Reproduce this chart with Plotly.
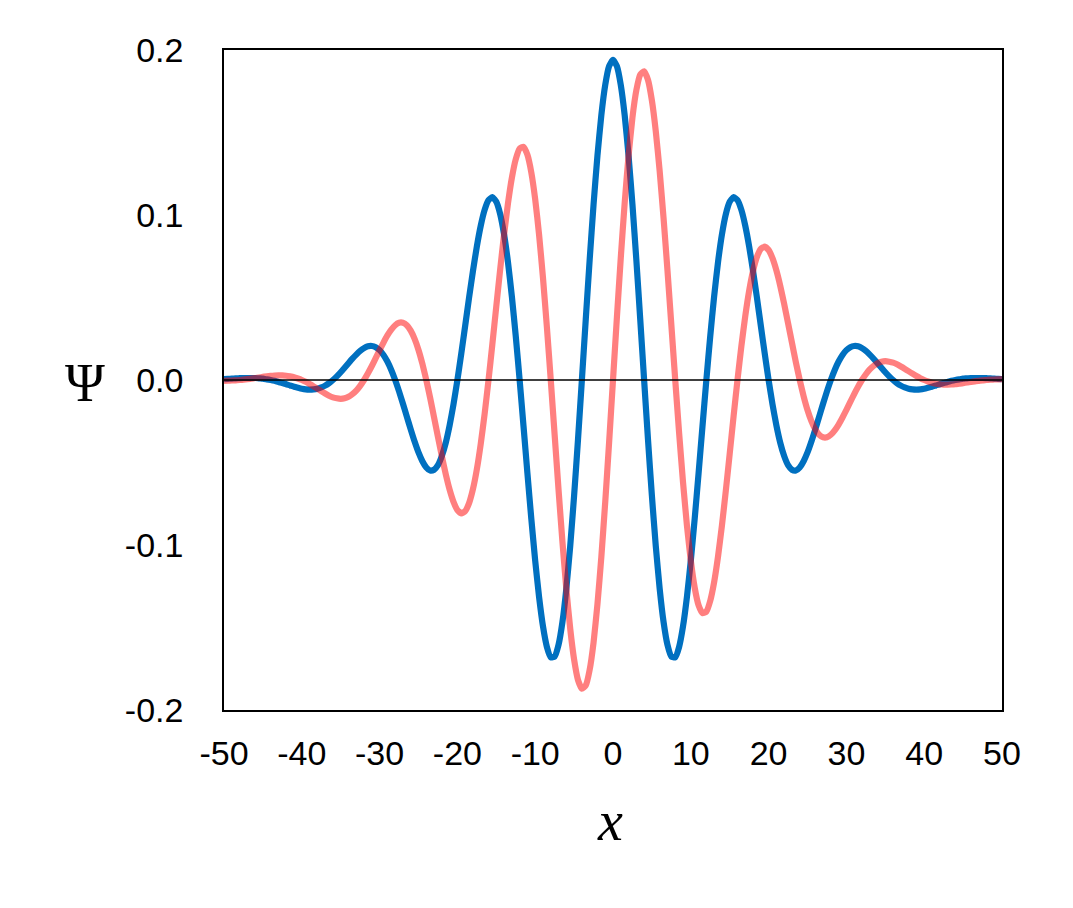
import plotly.graph_objects as go

# x grid: -50 .. 50 in steps of 0.5
x_vals = [i / 2 for i in range(-100, 101)]

# blue curve, x = -50 .. -0.5
blue_left = [
    0.0005, 0.0007, 0.0008, 0.0010, 0.0011, 0.0012, 0.0012, 0.0012, 0.0012, 0.0010,
    0.0008, 0.0004, 0.0, -0.0005, -0.0012, -0.0018, -0.0026, -0.0033, -0.0041, -0.0047,
    -0.0053, -0.0057, -0.0058, -0.0057, -0.0053, -0.0045, -0.0034, -0.0019, 0.0, 0.0022,
    0.0047, 0.0074, 0.0102, 0.0129, 0.0154, 0.0176, 0.0193, 0.0204, 0.0206, 0.0199,
    0.0181, 0.0152, 0.0112, 0.0061, 0.0, -0.0069, -0.0144, -0.0222, -0.0299, -0.0373,
    -0.0439, -0.0492, -0.0530, -0.0549, -0.0544, -0.0516, -0.0461, -0.0381, -0.0275, -0.0147,
    0.0, 0.0161, 0.0329, 0.0499, 0.0661, 0.0809, 0.0935, 0.1031, 0.1090, 0.1108,
    0.1080, 0.1005, 0.0882, 0.0715, 0.0507, 0.0266, 0.0, -0.0281, -0.0565, -0.0841,
    -0.1095, -0.1316, -0.1493, -0.1617, -0.1680, -0.1676, -0.1605, -0.1467, -0.1265, -0.1007,
    -0.0702, -0.0362, 0.0, 0.0368, 0.0728, 0.1063, 0.1359, 0.1605, 0.1788, 0.1902,
]
# blue curve, x = 0 .. 50
blue_right = [
    0.1940,
    0.1902, 0.1788, 0.1605, 0.1359, 0.1063, 0.0728, 0.0368, 0.0, -0.0362, -0.0702,
    -0.1007, -0.1265, -0.1467, -0.1605, -0.1676, -0.1680, -0.1617, -0.1493, -0.1316, -0.1095,
    -0.0841, -0.0565, -0.0281, 0.0, 0.0266, 0.0507, 0.0715, 0.0882, 0.1005, 0.1080,
    0.1108, 0.1090, 0.1031, 0.0935, 0.0809, 0.0661, 0.0499, 0.0329, 0.0161, 0.0,
    -0.0147, -0.0275, -0.0381, -0.0461, -0.0516, -0.0544, -0.0549, -0.0530, -0.0492, -0.0439,
    -0.0373, -0.0299, -0.0222, -0.0144, -0.0069, 0.0, 0.0061, 0.0112, 0.0152, 0.0181,
    0.0199, 0.0206, 0.0204, 0.0193, 0.0176, 0.0154, 0.0129, 0.0102, 0.0074, 0.0047,
    0.0022, 0.0, -0.0019, -0.0034, -0.0045, -0.0053, -0.0057, -0.0058, -0.0057, -0.0053,
    -0.0047, -0.0041, -0.0033, -0.0026, -0.0018, -0.0012, -0.0005, 0.0, 0.0004, 0.0008,
    0.0010, 0.0012, 0.0012, 0.0012, 0.0012, 0.0011, 0.0010, 0.0008, 0.0007, 0.0005,
]

# pink curve, x = -50 .. -0.5
pink_left = [
    -0.0005, -0.0004, -0.0003, -0.0002, 0.0, 0.0002, 0.0005, 0.0008, 0.0012, 0.0015,
    0.0019, 0.0022, 0.0025, 0.0027, 0.0028, 0.0028, 0.0026, 0.0022, 0.0017, 0.0009,
    0.0, -0.0011, -0.0024, -0.0038, -0.0053, -0.0068, -0.0082, -0.0095, -0.0105, -0.0111,
    -0.0114, -0.0111, -0.0102, -0.0086, -0.0064, -0.0035, 0.0, 0.0041, 0.0085, 0.0133,
    0.0181, 0.0227, 0.0270, 0.0305, 0.0332, 0.0347, 0.0347, 0.0332, 0.0299, 0.0249,
    0.0182, 0.0098, 0.0, -0.0109, -0.0226, -0.0345, -0.0461, -0.0570, -0.0664, -0.0738,
    -0.0788, -0.0808, -0.0795, -0.0746, -0.0661, -0.0541, -0.0387, -0.0205, 0.0, 0.0220,
    0.0447, 0.0671, 0.0882, 0.1070, 0.1225, 0.1338, 0.1403, 0.1413, 0.1365, 0.1258,
    0.1095, 0.0880, 0.0619, 0.0322, 0.0, -0.0333, -0.0665, -0.0980, -0.1265, -0.1507,
    -0.1694, -0.1818, -0.1871, -0.1851, -0.1756, -0.1591, -0.1359, -0.1072, -0.0741, -0.0378,
]
# pink curve, x = 0 .. 50
pink_right = [
    0.0,
    0.0378, 0.0741, 0.1072, 0.1359, 0.1591, 0.1756, 0.1851, 0.1871, 0.1818, 0.1694,
    0.1507, 0.1265, 0.0980, 0.0665, 0.0333, 0.0, -0.0322, -0.0619, -0.0880, -0.1095,
    -0.1258, -0.1365, -0.1413, -0.1403, -0.1338, -0.1225, -0.1070, -0.0882, -0.0671, -0.0447,
    -0.0220, 0.0, 0.0205, 0.0387, 0.0541, 0.0661, 0.0746, 0.0795, 0.0808, 0.0788,
    0.0738, 0.0664, 0.0570, 0.0461, 0.0345, 0.0226, 0.0109, 0.0, -0.0098, -0.0182,
    -0.0249, -0.0299, -0.0332, -0.0347, -0.0347, -0.0332, -0.0305, -0.0270, -0.0227, -0.0181,
    -0.0133, -0.0085, -0.0041, 0.0, 0.0035, 0.0064, 0.0086, 0.0102, 0.0111, 0.0114,
    0.0111, 0.0105, 0.0095, 0.0082, 0.0068, 0.0053, 0.0038, 0.0024, 0.0011, 0.0,
    -0.0009, -0.0017, -0.0022, -0.0026, -0.0028, -0.0028, -0.0027, -0.0025, -0.0022, -0.0019,
    -0.0015, -0.0012, -0.0008, -0.0005, -0.0002, 0.0, 0.0002, 0.0003, 0.0004, 0.0005,
]

x_ticks = list(range(-50, 51, 10))
x_tick_labels = ["-50", "-40", "-30", "-20", "-10", "0", "10", "20", "30", "40", "50"]
y_ticks = [-0.2, -0.1, 0.0, 0.1, 0.2]
y_tick_labels = ["-0.2", "-0.1", "0.0", "0.1", "0.2"]

blue_psi = blue_left + blue_right
pink_psi = pink_left + pink_right

fig = go.Figure()
fig.add_trace(go.Scatter(x=x_vals, y=blue_psi, mode="lines",
                         line=dict(color="#0070C0", width=6.2, shape="spline",
                                   smoothing=0.5, simplify=False),
                         showlegend=False))
fig.add_trace(go.Scatter(x=x_vals, y=pink_psi, mode="lines",
                         line=dict(color="rgba(255,0,0,0.5)", width=6.2, shape="spline",
                                   smoothing=0.5, simplify=False),
                         showlegend=False))

fig.add_shape(type="line", x0=-50, x1=50, y0=0, y1=0, xref="x", yref="y",
              line=dict(color="black", width=1.5), layer="above")

L, R, T, B = 224, 71, 50, 198
W, H = 1073, 908

fig.update_layout(
    width=W, height=H,
    margin=dict(l=L, r=R, t=T, b=B),
    paper_bgcolor="white", plot_bgcolor="white",
    font=dict(family="Liberation Sans, Arial, sans-serif", size=34, color="black"),
    xaxis=dict(range=[-50, 50], tickvals=x_ticks, ticktext=x_tick_labels, ticks="",
               showgrid=False, zeroline=False, showline=True, linecolor="black",
               linewidth=1.5, mirror=True, ticklabelstandoff=12),
    yaxis=dict(range=[-0.2, 0.2], tickvals=y_ticks, ticktext=y_tick_labels, ticks="",
               showgrid=False, zeroline=False, showline=True, linecolor="black",
               linewidth=1.5, mirror=True, ticklabelstandoff=32),
)

pw = W - L - R
ph = H - T - B


def px_to_paper(px, py):
    return (px - L) / pw, 1 - (py - T) / ph


ax, ay = px_to_paper(85, 383)
fig.add_annotation(text="Ψ", x=ax, y=ay, xref="paper", yref="paper", showarrow=False,
                   xanchor="center", yanchor="middle",
                   font=dict(family="Liberation Serif, Times New Roman, serif", size=54))
bx, by = px_to_paper(610, 821)
fig.add_annotation(text="<i>x</i>", x=bx, y=by, xref="paper", yref="paper", showarrow=False,
                   xanchor="center", yanchor="middle",
                   font=dict(family="Liberation Serif, Times New Roman, serif", size=56))

fig.write_html("out.html", config={"displayModeBar": False},
               post_script="document.body.style.margin='0';")
